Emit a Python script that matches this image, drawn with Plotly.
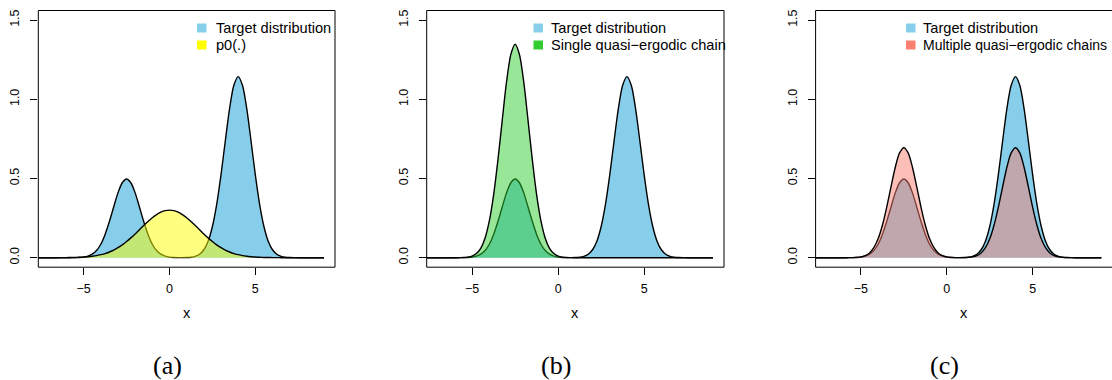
import plotly.graph_objects as go

# ---------------- data ----------------
x_grid = [-8.0, -7.75, -7.5, -7.25, -7.0, -6.75, -6.5, -6.25, -6.0, -5.75, -5.5, -5.25,
          -5.0, -4.75, -4.5, -4.25, -4.0, -3.75, -3.5, -3.25, -3.0, -2.75, -2.5, -2.25,
          -2.0, -1.75, -1.5, -1.25, -1.0, -0.75, -0.5, -0.25, 0.0, 0.25, 0.5, 0.75,
          1.0, 1.25, 1.5, 1.75, 2.0, 2.25, 2.5, 2.75, 3.0, 3.25, 3.5, 3.75,
          4.0, 4.25, 4.5, 4.75, 5.0, 5.25, 5.5, 5.75, 6.0, 6.25, 6.5, 6.75,
          7.0, 7.25, 7.5, 7.75, 8.0, 8.25, 8.5, 8.75, 9.0]

target = [0, 0, 0, 0, 0, 0, 0, 0, 0,
          0.0001, 0.0004, 0.0014, 0.0038, 0.0095, 0.022, 0.045, 0.085, 0.147, 0.228,
          0.320, 0.409, 0.473, 0.497, 0.473, 0.409, 0.320, 0.228, 0.147, 0.085,
          0.045, 0.022, 0.0095, 0.0038, 0.0014, 0.0004, 0.0004, 0.0010, 0.0031, 0.0087,
          0.022, 0.050, 0.104, 0.197, 0.337, 0.523, 0.736, 0.941, 1.088, 1.143,
          1.088, 0.941, 0.736, 0.523, 0.337, 0.197, 0.104, 0.050, 0.022, 0.0087,
          0.0031, 0.0010, 0.0003,
          0, 0, 0, 0, 0, 0, 0]

p0 = [0, 0, 0, 0, 0, 0, 0,
      0.0003, 0.0006, 0.001, 0.0016, 0.0025, 0.004, 0.006, 0.009, 0.013, 0.019, 0.026,
      0.036, 0.048, 0.063, 0.081, 0.102, 0.125, 0.150, 0.177, 0.203, 0.229, 0.252,
      0.272, 0.287, 0.297, 0.300, 0.297, 0.287, 0.272, 0.252, 0.229, 0.203, 0.177,
      0.150, 0.125, 0.102, 0.081, 0.063, 0.048, 0.036, 0.026, 0.019, 0.013, 0.009,
      0.006, 0.004, 0.0025, 0.0016, 0.001, 0.0006, 0.0003,
      0, 0, 0, 0, 0, 0, 0, 0, 0, 0, 0]

single_chain = [0, 0, 0, 0, 0, 0, 0, 0, 0,
                0.0004, 0.0012, 0.0037, 0.010, 0.026, 0.059, 0.123, 0.232, 0.397, 0.617,
                0.867, 1.109, 1.282, 1.347, 1.282, 1.109, 0.867, 0.617, 0.397, 0.232,
                0.123, 0.059, 0.026, 0.010, 0.0037, 0.0012, 0.0004,
                0, 0, 0, 0, 0, 0, 0, 0, 0, 0, 0, 0, 0, 0, 0, 0, 0, 0, 0, 0, 0, 0, 0,
                0, 0, 0, 0, 0, 0, 0, 0, 0, 0]

multiple_chains = [0, 0, 0, 0, 0, 0, 0, 0, 0,
                   0.0002, 0.0006, 0.0019, 0.0053, 0.013, 0.030, 0.063, 0.119, 0.205, 0.318,
                   0.447, 0.571, 0.661, 0.694, 0.661, 0.571, 0.447, 0.318, 0.205, 0.119,
                   0.063, 0.030, 0.013, 0.0053, 0.0019, 0.0006, 0.0004, 0.0006, 0.0019, 0.0053,
                   0.013, 0.030, 0.063, 0.119, 0.205, 0.318, 0.447, 0.571, 0.661, 0.694,
                   0.661, 0.571, 0.447, 0.318, 0.205, 0.119, 0.063, 0.030, 0.013, 0.0053,
                   0.0019, 0.0006, 0.0002,
                   0, 0, 0, 0, 0, 0, 0]

for s in (target, p0, single_chain, multiple_chains):
    assert len(s) == len(x_grid)

y_tick_vals = [0, 0.5, 1.0, 1.5]
y_tick_text = ["0.0", "0.5", "1.0", "1.5"]
x_tick_vals = [-5, 0, 5]
panel_labels = ["(a)", "(b)", "(c)"]
legend_labels = [["Target distribution", "p0(.)"],
                 ["Target distribution", "Single quasi\u2212ergodic chain"],
                 ["Target distribution", "Multiple quasi\u2212ergodic chains"]]

# ---------------- styling ----------------
W, H = 1112, 380
SANS = "Liberation Sans, Arial, Helvetica, sans-serif"
SERIF = "Liberation Serif, Times New Roman, serif"
BLUE = "#87CEEB"
YELLOW = "rgba(255,255,0,0.5)"
GREEN = "rgba(50,205,50,0.5)"
SALMON = "rgba(250,128,114,0.5)"

def px(v):
    return v / W

def py(v):
    return 1 - v / H

# box pixel edges for each panel
boxes = [(38.3, 335.0), (426.7, 724.0), (815.6, 1112.0)]
box_top, box_bot = 10.5, 267.2
x_ranges = [[-7.64, 9.64], [-7.64, 9.64], [-7.64, 9.62]]
y_range = [-0.06, 1.56]

fig = go.Figure()

def add_curve(idx, y, fill, width=1.4):
    sfx = "" if idx == 0 else str(idx + 1)
    fig.add_trace(go.Scatter(x=x_grid, y=y, mode="lines", fill="tozeroy",
                             fillcolor=fill,
                             line=dict(color="black", width=width, shape="spline",
                                       smoothing=0.8),
                             showlegend=False, hoverinfo="skip",
                             xaxis="x" + sfx, yaxis="y" + sfx))

add_curve(0, target, BLUE)
add_curve(0, p0, YELLOW)
add_curve(1, target, BLUE)
add_curve(1, single_chain, GREEN)
add_curve(2, target, BLUE)
add_curve(2, multiple_chains, SALMON)

layout = dict(width=W, height=H, margin=dict(l=0, r=0, t=0, b=0),
              paper_bgcolor="white", plot_bgcolor="white",
              font=dict(family=SANS, size=12, color="black"), showlegend=False)

shapes = []
annotations = []
for i, (bl, br) in enumerate(boxes):
    sfx = "" if i == 0 else str(i + 1)
    layout["xaxis" + sfx] = dict(domain=[px(bl), min(px(br), 1.0)], range=x_ranges[i],
                                 anchor="y" + sfx, showgrid=False, zeroline=False,
                                 showline=False, ticks="outside", ticklen=7,
                                 tickwidth=1, tickcolor="black", tickvals=x_tick_vals,
                                 tickfont=dict(size=12.5, family=SANS),
                                 ticklabelstandoff=3)
    layout["yaxis" + sfx] = dict(domain=[py(box_bot), py(box_top)], range=y_range,
                                 anchor="x" + sfx, showgrid=False, zeroline=False,
                                 showline=False, ticks="outside", ticklen=7,
                                 tickwidth=1, tickcolor="black", tickvals=y_tick_vals,
                                 ticktext=y_tick_text, tickangle=-90,
                                 tickfont=dict(size=12.5, family=SANS),
                                 ticklabelstandoff=6)
    # box
    shapes.append(dict(type="rect", xref="x" + sfx + " domain",
                       yref="y" + sfx + " domain", x0=0, x1=1.0 if i < 2 else 1.01,
                       y0=0, y1=1, line=dict(color="black", width=1), layer="above"))
    # x label
    annotations.append(dict(text="x", x=px((bl + bl + 297) / 2), y=py(313.3),
                            xref="paper", yref="paper", showarrow=False,
                            xanchor="center", yanchor="middle",
                            font=dict(size=14.5, family=SANS)))

# legends (drawn manually)
leg_pos = [(197.0, 214.5), (533.5, 550.0), (906.0, 921.7)]
leg_font = [[14.6, 14.6], [14.6, 14.6], [14.6, 14.0]]
row_y = [28.0, 45.0]
sq_colors = [[BLUE, "#FFFF00"], [BLUE, "#32CD32"], [BLUE, "#FA8072"]]
for i, (sx, tx) in enumerate(leg_pos):
    for r in range(2):
        cy = row_y[r]
        shapes.append(dict(type="rect", xref="paper", yref="paper",
                           x0=px(sx), x1=px(sx + 9.5), y0=py(cy - 4.5), y1=py(cy + 4.5),
                           fillcolor=sq_colors[i][r], line=dict(width=0), layer="above"))
        annotations.append(dict(text=legend_labels[i][r], x=px(tx), y=py(cy),
                                xref="paper", yref="paper", showarrow=False,
                                xanchor="left", yanchor="middle", borderpad=0,
                                font=dict(size=leg_font[i][r], family=SANS)))

# captions
cap_x = [167.5, 556.0, 944.5]
for i, cx in enumerate(cap_x):
    annotations.append(dict(text=panel_labels[i], x=px(cx), y=py(365),
                            xref="paper", yref="paper", showarrow=False,
                            xanchor="center", yanchor="middle",
                            font=dict(size=26, family=SERIF)))

layout["shapes"] = shapes
layout["annotations"] = annotations
fig.update_layout(**layout)
fig.write_html("out.html")
